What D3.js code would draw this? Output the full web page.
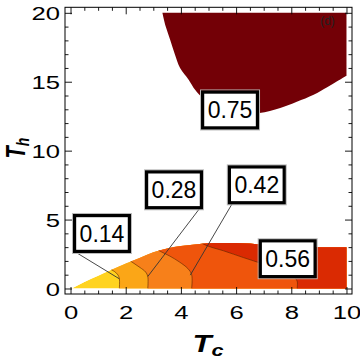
<!DOCTYPE html>
<html><head><meta charset="utf-8">
<script src="https://cdn.jsdelivr.net/npm/d3@7"></script>
<style>
body{margin:0;background:#fff}
svg{display:block}
text{font-family:"Liberation Sans",Arial,sans-serif}
</style></head>
<body><svg id="c" width="360" height="360"></svg>
<script>
// ---- data (T_c, T_h) ----
const xTicks = [0, 2, 4, 6, 8, 10];
const yTicks = [0, 5, 10, 15, 20];
const xMinor = [0.5,1,1.5,2.5,3,3.5,4.5,5,5.5,6.5,7,7.5,8.5,9,9.5];
const yMinor = [1,2,3,4,6,7,8,9,11,12,13,14,16,17,18,19];

// outer boundary of the low-T_h region
const outerEdge = [[0.04,0],[0.5,0.47],[1.0,0.93],[1.5,1.37],[2.0,1.82],[2.5,2.22],[3.0,2.62],[3.5,2.9],[4.0,3.08],[4.5,3.2],[5.0,3.28],[5.5,3.3],[6.0,3.3],[6.5,3.26],[7.0,3.15],[7.5,3.04],[8.0,3.0],[9.0,3.0],[10,3.0]];
// contour lines (bottom -> top)
const c014 = [[1.77,0],[1.77,0.7],[1.72,0.98],[1.6,1.22],[1.4,1.45]];
const c028 = [[2.8,0],[2.8,0.87],[2.72,1.2],[2.52,1.52],[2.3,1.82],[2.05,2.15]];
const c042 = [[4.39,0],[4.39,1.0],[4.25,1.45],[3.95,1.92],[3.6,2.35],[3.3,2.65],[3.0,3.0]];
const c056 = [[8.21,0],[8.21,0.55],[8.02,0.95],[7.55,1.38],[6.82,1.88],[6.27,2.24],[5.55,2.73],[4.95,3.1],[4.6,3.45]];
// 0.75 contour (upper region)
const c075 = [[3.33,20],[3.45,19],[3.61,18.05],[3.78,17],[3.97,16.0],[4.28,15.15],[4.52,14.4],[4.8,13.8],[5.2,13.3],[5.7,12.95],[6.3,12.75],[6.85,12.73],[7.6,13.1],[8.2,13.55],[8.81,14.06],[9.3,14.6],[9.66,15.03],[10,15.44]];

const levels = ["0.14","0.28","0.42","0.56","0.75"];
const bandColors = ["#FFD31F","#FBA617","#F7801A","#EF550C","#DA2A02"];
const topColor = "#730006";
// label anchors (data coords) and leader targets
const labelPos = [[1.14,3.99],[3.75,7.16],[6.75,7.52],[7.87,2.16],[5.78,12.95]];
const leaderTo = [[1.77,0.7],[2.8,0.87],[4.34,0.97],null,null];
const leaderCorner = ["bl","br","bl",null,null];

// ---- drawing ----
const svg = d3.select("#c");
const x = d3.scaleLinear([-0.2,10.2],[65,352]);
const y = d3.scaleLinear([-0.4,20.4],[294,7.3]);

const defs = svg.append("defs");
const smooth = d3.line().x(d=>x(d[0])).y(d=>y(d[1])).curve(d3.curveMonotoneX);
const cr = d3.line().x(d=>x(d[0])).y(d=>y(d[1])).curve(d3.curveCatmullRom.alpha(0.5));
const outerD = smooth(outerEdge) + `L${x(10)},${y(0)}Z`;
defs.append("clipPath").attr("id","outer").append("path").attr("d", outerD);

// upper region
svg.append("path")
  .attr("d", cr(c075) + `L${x(10)},${y(20)}Z`)
  .attr("fill", topColor);

// lower region bands
const gb = svg.append("g").attr("clip-path","url(#outer)");
gb.append("path").attr("d", outerD).attr("fill", bandColors[0]);
const contours = [c014, c028, c042, c056];
contours.forEach((c,i)=>{
  const f = c[0], l = c[c.length-1];
  const d = cr(c) + `L${x(l[0])},${y(6)}L${x(11)},${y(6)}L${x(11)},${y(-1)}L${x(f[0])},${y(-1)}Z`;
  gb.append("path").attr("d", d).attr("fill", bandColors[i+1]);
});
contours.forEach(c=>{
  gb.append("path").attr("d", cr(c)).attr("fill","none")
    .attr("stroke","rgba(90,35,0,0.6)").attr("stroke-width",1);
});

// frame
svg.append("rect").attr("x",x.range()[0]).attr("y",y.range()[1])
  .attr("width",x.range()[1]-x.range()[0]).attr("height",y.range()[0]-y.range()[1])
  .attr("fill","none").attr("stroke","#000").attr("stroke-width",1);

// axes
function clean(g){ g.select(".domain").remove(); g.selectAll("line").attr("stroke","#000").attr("stroke-width",0.9); }
const fmt = d3.format("d");
const gB = svg.append("g").attr("transform",`translate(0,${y.range()[0]})`)
  .call(d3.axisBottom(x).tickValues(xTicks).tickSize(-7).tickFormat(fmt)).call(clean);
svg.append("g").attr("transform",`translate(0,${y.range()[0]})`)
  .call(d3.axisBottom(x).tickValues(xMinor).tickSize(-3.5).tickFormat("")).call(clean);
svg.append("g").attr("transform",`translate(0,${y.range()[1]})`)
  .call(d3.axisTop(x).tickValues(xTicks).tickSize(-7).tickFormat("")).call(clean);
svg.append("g").attr("transform",`translate(0,${y.range()[1]})`)
  .call(d3.axisTop(x).tickValues(xMinor).tickSize(-3.5).tickFormat("")).call(clean);
const gL = svg.append("g").attr("transform",`translate(${x.range()[0]},0)`)
  .call(d3.axisLeft(y).tickValues(yTicks).tickSize(-7).tickFormat(fmt)).call(clean);
svg.append("g").attr("transform",`translate(${x.range()[0]},0)`)
  .call(d3.axisLeft(y).tickValues(yMinor).tickSize(-3.5).tickFormat("")).call(clean);
svg.append("g").attr("transform",`translate(${x.range()[1]},0)`)
  .call(d3.axisRight(y).tickValues(yTicks).tickSize(-7).tickFormat("")).call(clean);
svg.append("g").attr("transform",`translate(${x.range()[1]},0)`)
  .call(d3.axisRight(y).tickValues(yMinor).tickSize(-3.5).tickFormat("")).call(clean);

gB.selectAll("text").attr("y",null).attr("dy",null)
  .attr("transform","translate(0,25) scale(1.35,1)")
  .attr("font-family","Liberation Sans, Arial, sans-serif").attr("font-size",19).attr("fill","#000");
gL.selectAll("text").attr("x",null).attr("dy","0.36em")
  .attr("transform","translate(-5,0) scale(1.35,1)")
  .attr("font-family","Liberation Sans, Arial, sans-serif").attr("font-size",19).attr("fill","#000");

// axis titles
const tx = svg.append("text").attr("transform","translate(208,352) scale(1.35,1)")
  .attr("text-anchor","middle").attr("font-weight","bold").attr("font-style","italic").attr("font-size",23);
tx.append("tspan").text("T");
tx.append("tspan").attr("font-size",16).attr("dy",4).text("c");
const ty = svg.append("text").attr("transform","translate(25,148) scale(1.35,1) rotate(-90)")
  .attr("text-anchor","middle").attr("font-weight","bold").attr("font-style","italic").attr("font-size",20);
ty.append("tspan").text("T");
ty.append("tspan").attr("font-size",14).attr("dy",3).text("h");

// panel tag
svg.append("text").attr("x",327.5).attr("y",25).attr("text-anchor","middle")
  .attr("font-size",12).attr("fill","#222").text("(d)");

// contour labels
const bw = 58, bh = 39;
levels.forEach((lv,i)=>{
  const cx = x(labelPos[i][0]), cy = y(labelPos[i][1]);
  if (leaderTo[i]) {
    const sx = leaderCorner[i]==="bl" ? cx-bw/2+4 : cx+bw/2-4;
    svg.append("line").attr("x1",sx).attr("y1",cy+bh/2)
      .attr("x2",x(leaderTo[i][0])).attr("y2",y(leaderTo[i][1]))
      .attr("stroke","#333").attr("stroke-width",0.9);
  }
});
levels.forEach((lv,i)=>{
  const cx = x(labelPos[i][0]), cy = y(labelPos[i][1]);
  const g = svg.append("g");
  g.append("rect").attr("x",cx-bw/2-0.5).attr("y",cy-bh/2-0.5).attr("width",bw+1).attr("height",bh+1)
    .attr("fill","none").attr("stroke","#bbb").attr("stroke-width",1);
  g.append("rect").attr("x",cx-bw/2+1.6).attr("y",cy-bh/2+1.6).attr("width",bw-3.2).attr("height",bh-3.2)
    .attr("fill","#fff").attr("stroke","#000").attr("stroke-width",3.2);
  g.append("text").attr("x",cx).attr("y",cy+8.3).attr("text-anchor","middle")
    .attr("font-size",23).attr("fill","#000").text(lv);
});
</script></body></html>
